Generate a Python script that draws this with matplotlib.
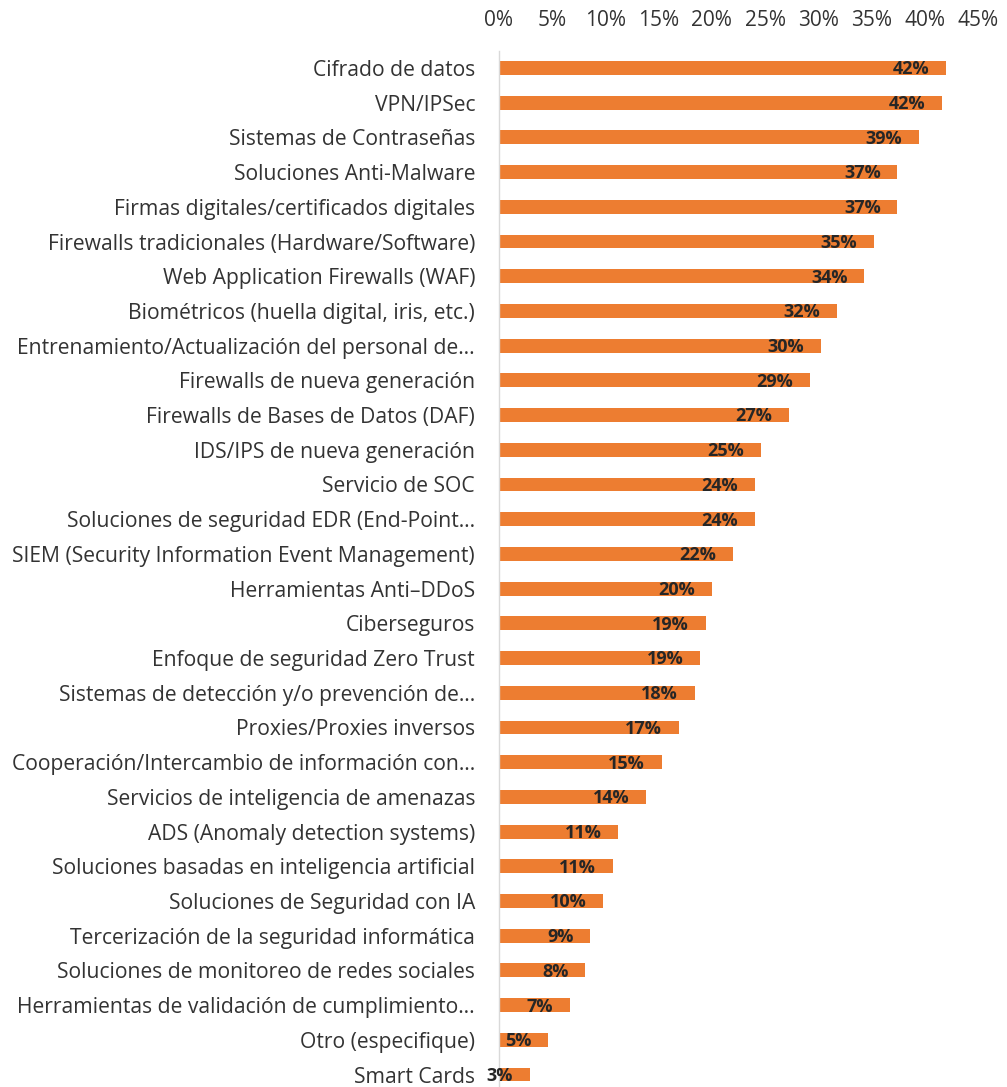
import matplotlib
matplotlib.use("Agg")
import matplotlib.pyplot as plt
from matplotlib.ticker import FuncFormatter, MultipleLocator

# --- datos -------------------------------------------------------------
categorias = [
    "Cifrado de datos",
    "VPN/IPSec",
    "Sistemas de Contraseñas",
    "Soluciones Anti-Malware",
    "Firmas digitales/certificados digitales",
    "Firewalls tradicionales (Hardware/Software)",
    "Web Application Firewalls (WAF)",
    "Biométricos (huella digital, iris, etc.)",
    "Entrenamiento/Actualización del personal de…",
    "Firewalls de nueva generación",
    "Firewalls de Bases de Datos (DAF)",
    "IDS/IPS de nueva generación",
    "Servicio de SOC",
    "Soluciones de seguridad EDR (End-Point…",
    "SIEM (Security Information Event Management)",
    "Herramientas Anti–DDoS",
    "Ciberseguros",
    "Enfoque de seguridad Zero Trust",
    "Sistemas de detección y/o prevención de…",
    "Proxies/Proxies inversos",
    "Cooperación/Intercambio de información con…",
    "Servicios de inteligencia de amenazas",
    "ADS (Anomaly detection systems)",
    "Soluciones basadas en inteligencia artificial",
    "Soluciones de Seguridad con IA",
    "Tercerización de la seguridad informática",
    "Soluciones de monitoreo de redes sociales",
    "Herramientas de validación de cumplimiento…",
    "Otro (especifique)",
    "Smart Cards",
]

porcentajes = [
    42.0, 41.6, 39.4, 37.4, 37.4, 35.2, 34.3, 31.7, 30.2, 29.2,
    27.2, 24.6, 24.0, 24.0, 22.0, 20.0, 19.4, 18.9, 18.4, 16.9,
    15.3, 13.8, 11.2, 10.7, 9.8, 8.6, 8.1, 6.7, 4.6, 2.9,
]

# --- estilo ------------------------------------------------------------
NARANJA = "#ED7D31"
TEXTO = "#333333"
plt.rcParams["font.family"] = ["Open Sans", "DejaVu Sans"]

W, H = 1007, 1087
fig = plt.figure(figsize=(W / 100, H / 100), dpi=100)
fig.patch.set_facecolor("white")

# eje en píxeles -> fracción de figura
x0, ancho = 498.7, 479.7
y_top, y_bot = 50.6, 1091.9
ax = fig.add_axes([x0 / W, 1 - y_bot / H, ancho / W, (y_bot - y_top) / H])

pos = list(range(len(categorias)))
ax.barh(pos, porcentajes, height=0.4, color=NARANJA, zorder=2)

ax.set_ylim(len(categorias) - 0.5, -0.5)
ax.set_xlim(0, 45)

ax.set_yticks(pos)
ax.set_yticklabels(categorias, fontsize=15.2, color=TEXTO)
ax.tick_params(axis="y", length=0, pad=17)

ax.xaxis.tick_top()
ax.xaxis.set_major_locator(MultipleLocator(5))
ax.xaxis.set_major_formatter(FuncFormatter(lambda v, _: f"{v:.0f}%"))
ax.tick_params(axis="x", length=0, pad=14, labelsize=15, labelcolor=TEXTO)

for lado in ("top", "right", "bottom"):
    ax.spines[lado].set_visible(False)
ax.spines["left"].set_color("#D9D9D9")
ax.spines["left"].set_linewidth(1.0)

# etiquetas de valor dentro del extremo de cada barra
for y, v in zip(pos, porcentajes):
    ax.annotate(f"{v:.0f}%", xy=(v, y), xytext=(-12, -1),
                textcoords="offset points", ha="right", va="center",
                fontsize=13, fontweight="bold", color="#262626", zorder=3)

fig.savefig("out.png", dpi=100)
